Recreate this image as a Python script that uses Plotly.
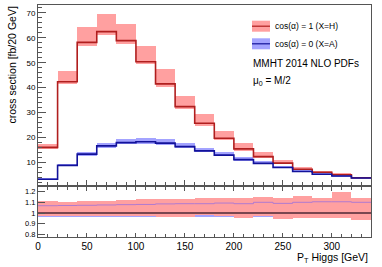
import numpy as np
import plotly.graph_objects as go

# ---------------- data ----------------
bin_edges = [0, 20, 40, 60, 80, 100, 120, 140, 160, 180, 200, 220, 240, 260, 280, 300, 320, 340]

red_central = [16.0, 42.4, 58.2, 62.5, 58.9, 50.4, 41.5, 32.4, 25.7, 19.7, 15.4, 12.3, 9.7, 7.2, 6.0, 5.0, 3.8]
red_up      = [17.5, 46.7, 64.2, 69.5, 65.6, 56.7, 47.3, 36.8, 29.3, 22.6, 17.7, 14.1, 10.9, 8.3, 6.7, 5.8, 4.3]
red_lo      = [15.4, 41.5, 56.9, 61.3, 57.4, 49.4, 40.2, 31.4, 24.7, 19.0, 14.7, 11.8, 9.2, 6.8, 5.7, 4.7, 3.55]

blue_central = [3.2, 8.8, 13.3, 16.6, 17.9, 18.3, 17.7, 16.3, 14.6, 12.9, 11.1, 9.6, 7.9, 6.3, 5.2, 4.5, 3.7]
blue_up      = [3.45, 9.4, 14.2, 17.8, 19.4, 19.9, 19.2, 17.7, 15.9, 14.1, 12.1, 10.5, 8.6, 6.9, 5.7, 4.9, 4.05]
blue_lo      = [3.07, 8.45, 12.75, 15.9, 17.2, 17.55, 17.0, 15.6, 14.0, 12.35, 10.6, 9.2, 7.6, 6.05, 5.0, 4.3, 3.55]

ratio_red_up  = [1.11, 1.10, 1.11, 1.11, 1.12, 1.125, 1.13, 1.13, 1.14, 1.135, 1.14, 1.15, 1.14, 1.16, 1.14, 1.19, 1.14]
ratio_red_lo  = [0.965, 0.965, 0.97, 0.97, 0.965, 0.965, 0.96, 0.96, 0.975, 0.965, 0.955, 0.965, 0.945, 0.955, 0.955, 0.955, 0.935]
ratio_blue_up = [1.068, 1.07, 1.072, 1.075, 1.078, 1.08, 1.085, 1.087, 1.087, 1.093, 1.087, 1.10, 1.09, 1.10, 1.105, 1.105, 1.10]
ratio_blue_lo = [0.957, 0.957, 0.957, 0.957, 0.957, 0.957, 0.957, 0.957, 0.957, 0.957, 0.957, 0.957, 0.957, 0.957, 0.957, 0.957, 0.957]

legend_labels = ["cos(\u03b1) = 1 (X=H)", "cos(\u03b1) = 0 (X=A)"]
info_lines = ["MMHT 2014 NLO PDFs", "\u03bc<sub>0</sub> = M/2"]

# ---------------- styles ----------------
RED_BAND = "#ffa0a0"
BLUE_BAND = "#a3a3ff"
RED_LINE = "#b01e1e"
BLUE_LINE = "#12129a"
AXIS_COL = "#555555"
FONT = "Liberation Sans, Arial, sans-serif"

W, H = 382, 267
ML, MR, MT, MB = 38, 11, 5, 30
PW, PH = W - ML - MR, H - MT - MB


def px(x):
    return (x - ML) / PW


def py(y):
    return (H - MB - y) / PH


edges = np.array(bin_edges, dtype=float)
centers = 0.5 * (edges[:-1] + edges[1:])
widths = np.diff(edges)


def step_y(vals):
    v = list(vals)
    return v + [v[-1]]


fig = go.Figure()


def band(lo, up, color, xa, ya):
    lo = np.array(lo)
    up = np.array(up)
    fig.add_trace(go.Bar(x=centers, y=up - lo, base=lo, width=widths,
                         marker=dict(color=color, line=dict(width=0)),
                         xaxis=xa, yaxis=ya, showlegend=False, hoverinfo="skip"))


def step(vals, color, width, xa, ya):
    fig.add_trace(go.Scatter(x=edges, y=step_y(vals), mode="lines",
                             line=dict(shape="hv", color=color, width=width),
                             xaxis=xa, yaxis=ya, showlegend=False, hoverinfo="skip"))


# main panel
band(red_lo, red_up, RED_BAND, "x", "y")
band(blue_lo, blue_up, BLUE_BAND, "x", "y")
step(red_central, RED_LINE, 1.6, "x", "y")
step(blue_central, BLUE_LINE, 1.6, "x", "y")

# ratio panel
band(ratio_blue_lo, ratio_blue_up, BLUE_BAND, "x2", "y2")
band(ratio_red_lo, ratio_red_up, RED_BAND, "x2", "y2")
step(ratio_blue_up, "#b07ad0", 1.0, "x2", "y2")
ratio_central = np.array(red_central) / np.array(red_central)
step(ratio_central, "#7a4650", 2.0, "x2", "y2")

main_bottom = py(184.5)
ratio_top = py(187.3)

fig.update_layout(
    width=W, height=H,
    margin=dict(l=ML, r=MR, t=MT, b=MB),
    paper_bgcolor="white", plot_bgcolor="white",
    barmode="overlay", bargap=0,
    font=dict(family=FONT, color="black"),
    xaxis=dict(domain=[0, 1], range=[0, 340], anchor="y",
               showgrid=False, zeroline=False, showline=True, linecolor=AXIS_COL, linewidth=1,
               mirror=True, ticks="inside", ticklen=5, tickcolor=AXIS_COL, dtick=50, tick0=0,
               showticklabels=False,
               minor=dict(ticks="inside", ticklen=3, dtick=10, tickcolor=AXIS_COL)),
    yaxis=dict(domain=[main_bottom, 1], range=[1.1, 73.2], anchor="x",
               showgrid=False, zeroline=False, showline=True, linecolor=AXIS_COL, linewidth=1,
               mirror=True, ticks="inside", ticklen=8, tickcolor=AXIS_COL, dtick=10, tick0=0,
               tickfont=dict(size=8, family=FONT),
               minor=dict(ticks="inside", ticklen=4, dtick=2, tickcolor=AXIS_COL)),
    xaxis2=dict(domain=[0, 1], range=[0, 340], anchor="y2",
                showgrid=False, zeroline=False, showline=True, linecolor=AXIS_COL, linewidth=1,
                mirror="ticks", ticks="inside", ticklen=4, tickcolor=AXIS_COL, dtick=50, tick0=0,
                tickfont=dict(size=10, family=FONT),
                minor=dict(ticks="inside", ticklen=3, dtick=10, tickcolor=AXIS_COL)),
    yaxis2=dict(domain=[0, ratio_top], range=[0.776, 1.24], anchor="x2",
                showgrid=False, zeroline=False, showline=True, linecolor=AXIS_COL, linewidth=1,
                mirror=True, ticks="inside", ticklen=7, tickcolor=AXIS_COL,
                tickvals=[0.8, 0.9, 1.0, 1.1, 1.2], ticktext=["0.8", "0.9", "1", "1.1", "1.2"],
                tickfont=dict(size=7.5, family=FONT)),
)

# legend swatches
shapes = []
ann = []
sw = [(20.7, 31.7, RED_BAND, RED_LINE), (38.3, 49.3, BLUE_BAND, BLUE_LINE)]
for i, (y0, y1, fc, lc) in enumerate(sw):
    shapes.append(dict(type="rect", xref="paper", yref="paper",
                       x0=px(252), x1=px(270), y0=py(y1), y1=py(y0),
                       fillcolor=fc, line=dict(width=0), layer="above"))
    ym = 0.5 * (y0 + y1)
    shapes.append(dict(type="line", xref="paper", yref="paper",
                       x0=px(252), x1=px(270), y0=py(ym), y1=py(ym),
                       line=dict(color=lc, width=1.2), layer="above"))
    ann.append(dict(text=legend_labels[i], xref="paper", yref="paper",
                    x=px(273), y=py(ym), xanchor="left", yanchor="middle",
                    showarrow=False, font=dict(size=8.5, family=FONT)))

ann.append(dict(text=info_lines[0], xref="paper", yref="paper", x=px(251), y=py(64),
                xanchor="left", yanchor="middle", showarrow=False, font=dict(size=10, family=FONT)))
ann.append(dict(text=info_lines[1], xref="paper", yref="paper", x=px(251), y=py(81),
                xanchor="left", yanchor="middle", showarrow=False, font=dict(size=10, family=FONT)))

# axis titles
ann.append(dict(text="cross section [fb/20 GeV]", xref="paper", yref="paper",
                x=px(11), y=py(5), xanchor="center", yanchor="top", textangle=-90,
                showarrow=False, font=dict(size=10.5, family=FONT)))
ann.append(dict(text="P<sub>T</sub> Higgs [GeV]", xref="paper", yref="paper",
                x=px(370), y=py(258), xanchor="right", yanchor="middle",
                showarrow=False, font=dict(size=10.5, family=FONT)))

fig.update_layout(shapes=shapes, annotations=ann)

fig.write_html("out.html", config={"displayModeBar": False},
               post_script="document.body.style.margin='0px';")
